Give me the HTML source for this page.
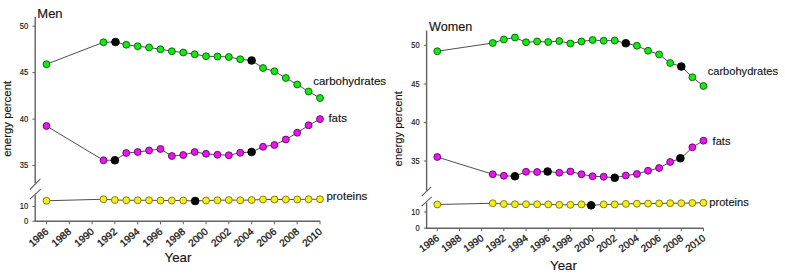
<!DOCTYPE html>
<html><head><meta charset="utf-8"><style>
html,body{margin:0;padding:0;background:#fff;}
body{width:785px;height:276px;overflow:hidden;}
svg{display:block;}
text{font-family:"Liberation Sans", sans-serif;fill:#141414;stroke:#141414;stroke-width:0.15px;}
</style></head><body>
<svg width="785" height="276" viewBox="0 0 785 276">
<rect width="785" height="276" fill="#fff"/>
<path d="M35.2 17V183.3M35.2 195.2V221.3H320.2" fill="none" stroke="#626262" stroke-width="1.4"/>
<line x1="30" y1="189.5" x2="40.3" y2="178.9" stroke="#626262" stroke-width="1.1"/>
<line x1="30" y1="199.2" x2="40.8" y2="189.1" stroke="#626262" stroke-width="1.1"/>
<line x1="32.4" y1="26.1" x2="35.2" y2="26.1" stroke="#626262" stroke-width="1"/>
<text transform="translate(28.2 28.6) scale(0.88 1)" text-anchor="end" font-size="8.7">50</text>
<line x1="32.4" y1="72.6" x2="35.2" y2="72.6" stroke="#626262" stroke-width="1"/>
<text transform="translate(28.2 75.1) scale(0.88 1)" text-anchor="end" font-size="8.7">45</text>
<line x1="32.4" y1="119.1" x2="35.2" y2="119.1" stroke="#626262" stroke-width="1"/>
<text transform="translate(28.2 121.6) scale(0.88 1)" text-anchor="end" font-size="8.7">40</text>
<line x1="32.4" y1="165.6" x2="35.2" y2="165.6" stroke="#626262" stroke-width="1"/>
<text transform="translate(28.2 168.1) scale(0.88 1)" text-anchor="end" font-size="8.7">35</text>
<line x1="32.4" y1="206.5" x2="35.2" y2="206.5" stroke="#626262" stroke-width="1"/>
<text transform="translate(28.2 209) scale(0.88 1)" text-anchor="end" font-size="8.7">10</text>
<line x1="32.4" y1="221.3" x2="35.2" y2="221.3" stroke="#626262" stroke-width="1"/>
<text transform="translate(28.2 223.8) scale(0.88 1)" text-anchor="end" font-size="8.7">0</text>
<line x1="46.5" y1="221.3" x2="46.5" y2="224.3" stroke="#626262" stroke-width="1"/>
<text transform="translate(49.2 232.6) rotate(-41)" text-anchor="end" font-size="10.0" style="stroke-width:0.3px">1986</text>
<line x1="69.29" y1="221.3" x2="69.29" y2="224.3" stroke="#626262" stroke-width="1"/>
<text transform="translate(71.99 232.6) rotate(-41)" text-anchor="end" font-size="10.0" style="stroke-width:0.3px">1988</text>
<line x1="92.08" y1="221.3" x2="92.08" y2="224.3" stroke="#626262" stroke-width="1"/>
<text transform="translate(94.78 232.6) rotate(-41)" text-anchor="end" font-size="10.0" style="stroke-width:0.3px">1990</text>
<line x1="114.88" y1="221.3" x2="114.88" y2="224.3" stroke="#626262" stroke-width="1"/>
<text transform="translate(117.58 232.6) rotate(-41)" text-anchor="end" font-size="10.0" style="stroke-width:0.3px">1992</text>
<line x1="137.67" y1="221.3" x2="137.67" y2="224.3" stroke="#626262" stroke-width="1"/>
<text transform="translate(140.37 232.6) rotate(-41)" text-anchor="end" font-size="10.0" style="stroke-width:0.3px">1994</text>
<line x1="160.46" y1="221.3" x2="160.46" y2="224.3" stroke="#626262" stroke-width="1"/>
<text transform="translate(163.16 232.6) rotate(-41)" text-anchor="end" font-size="10.0" style="stroke-width:0.3px">1996</text>
<line x1="183.25" y1="221.3" x2="183.25" y2="224.3" stroke="#626262" stroke-width="1"/>
<text transform="translate(185.95 232.6) rotate(-41)" text-anchor="end" font-size="10.0" style="stroke-width:0.3px">1998</text>
<line x1="206.04" y1="221.3" x2="206.04" y2="224.3" stroke="#626262" stroke-width="1"/>
<text transform="translate(208.74 232.6) rotate(-41)" text-anchor="end" font-size="10.0" style="stroke-width:0.3px">2000</text>
<line x1="228.84" y1="221.3" x2="228.84" y2="224.3" stroke="#626262" stroke-width="1"/>
<text transform="translate(231.54 232.6) rotate(-41)" text-anchor="end" font-size="10.0" style="stroke-width:0.3px">2002</text>
<line x1="251.63" y1="221.3" x2="251.63" y2="224.3" stroke="#626262" stroke-width="1"/>
<text transform="translate(254.33 232.6) rotate(-41)" text-anchor="end" font-size="10.0" style="stroke-width:0.3px">2004</text>
<line x1="274.42" y1="221.3" x2="274.42" y2="224.3" stroke="#626262" stroke-width="1"/>
<text transform="translate(277.12 232.6) rotate(-41)" text-anchor="end" font-size="10.0" style="stroke-width:0.3px">2006</text>
<line x1="297.21" y1="221.3" x2="297.21" y2="224.3" stroke="#626262" stroke-width="1"/>
<text transform="translate(299.91 232.6) rotate(-41)" text-anchor="end" font-size="10.0" style="stroke-width:0.3px">2008</text>
<line x1="320" y1="221.3" x2="320" y2="224.3" stroke="#626262" stroke-width="1"/>
<text transform="translate(322.7 232.6) rotate(-41)" text-anchor="end" font-size="10.0" style="stroke-width:0.3px">2010</text>
<text x="37.3" y="17.9" font-size="13.0">Men</text>
<text transform="translate(10.5 118.85) rotate(-90)" text-anchor="middle" font-size="11.4">energy percent</text>
<text x="177.95" y="262.4" text-anchor="middle" font-size="13.3">Year</text>
<text x="313.2" y="85" font-size="11.5">carbohydrates</text>
<text x="328.4" y="121.6" font-size="11.5">fats</text>
<text x="326.4" y="200" font-size="11.5">proteins</text>
<polyline points="46.5,64.25 103.48,42.25 114.88,42 126.27,44.75 137.67,46.25 149.06,47.5 160.46,49.25 171.86,51.25 183.25,52.5 194.65,54.25 206.04,56.25 217.44,56.5 228.84,57 240.23,59.25 251.63,60.5 263.02,68 274.42,71.25 285.82,78 297.21,84.5 308.61,91.5 320,98" fill="none" stroke="#4e4e4e" stroke-width="1"/>
<circle cx="46.5" cy="64.25" r="3.45" fill="#12ea12" stroke="#0b5a0b" stroke-width="0.9"/>
<circle cx="103.48" cy="42.25" r="3.45" fill="#12ea12" stroke="#0b5a0b" stroke-width="0.9"/>
<circle cx="115.48" cy="42" r="3.85" fill="#060606" stroke="#000000" stroke-width="0.9"/>
<circle cx="126.27" cy="44.75" r="3.45" fill="#12ea12" stroke="#0b5a0b" stroke-width="0.9"/>
<circle cx="137.67" cy="46.25" r="3.45" fill="#12ea12" stroke="#0b5a0b" stroke-width="0.9"/>
<circle cx="149.06" cy="47.5" r="3.45" fill="#12ea12" stroke="#0b5a0b" stroke-width="0.9"/>
<circle cx="160.46" cy="49.25" r="3.45" fill="#12ea12" stroke="#0b5a0b" stroke-width="0.9"/>
<circle cx="171.86" cy="51.25" r="3.45" fill="#12ea12" stroke="#0b5a0b" stroke-width="0.9"/>
<circle cx="183.25" cy="52.5" r="3.45" fill="#12ea12" stroke="#0b5a0b" stroke-width="0.9"/>
<circle cx="194.65" cy="54.25" r="3.45" fill="#12ea12" stroke="#0b5a0b" stroke-width="0.9"/>
<circle cx="206.04" cy="56.25" r="3.45" fill="#12ea12" stroke="#0b5a0b" stroke-width="0.9"/>
<circle cx="217.44" cy="56.5" r="3.45" fill="#12ea12" stroke="#0b5a0b" stroke-width="0.9"/>
<circle cx="228.84" cy="57" r="3.45" fill="#12ea12" stroke="#0b5a0b" stroke-width="0.9"/>
<circle cx="240.23" cy="59.25" r="3.45" fill="#12ea12" stroke="#0b5a0b" stroke-width="0.9"/>
<circle cx="251.63" cy="60.5" r="3.85" fill="#060606" stroke="#000000" stroke-width="0.9"/>
<circle cx="263.02" cy="68" r="3.45" fill="#12ea12" stroke="#0b5a0b" stroke-width="0.9"/>
<circle cx="274.42" cy="71.25" r="3.45" fill="#12ea12" stroke="#0b5a0b" stroke-width="0.9"/>
<circle cx="285.82" cy="78" r="3.45" fill="#12ea12" stroke="#0b5a0b" stroke-width="0.9"/>
<circle cx="297.21" cy="84.5" r="3.45" fill="#12ea12" stroke="#0b5a0b" stroke-width="0.9"/>
<circle cx="308.61" cy="91.5" r="3.45" fill="#12ea12" stroke="#0b5a0b" stroke-width="0.9"/>
<circle cx="320" cy="98" r="3.45" fill="#12ea12" stroke="#0b5a0b" stroke-width="0.9"/>
<polyline points="46.5,126 103.48,160.25 114.88,160.25 126.27,153 137.67,152 149.06,150.5 160.46,149 171.86,156 183.25,155 194.65,152 206.04,153.75 217.44,154.75 228.84,155.25 240.23,152.75 251.63,152 263.02,146.75 274.42,145 285.82,139.5 297.21,132.75 308.61,125.3 320,119.1" fill="none" stroke="#4e4e4e" stroke-width="1"/>
<circle cx="46.5" cy="126" r="3.45" fill="#ea14ee" stroke="#5e0860" stroke-width="0.9"/>
<circle cx="103.48" cy="160.25" r="3.45" fill="#ea14ee" stroke="#5e0860" stroke-width="0.9"/>
<circle cx="114.88" cy="160.25" r="3.85" fill="#060606" stroke="#000000" stroke-width="0.9"/>
<circle cx="126.27" cy="153" r="3.45" fill="#ea14ee" stroke="#5e0860" stroke-width="0.9"/>
<circle cx="137.67" cy="152" r="3.45" fill="#ea14ee" stroke="#5e0860" stroke-width="0.9"/>
<circle cx="149.06" cy="150.5" r="3.45" fill="#ea14ee" stroke="#5e0860" stroke-width="0.9"/>
<circle cx="160.46" cy="149" r="3.45" fill="#ea14ee" stroke="#5e0860" stroke-width="0.9"/>
<circle cx="171.86" cy="156" r="3.45" fill="#ea14ee" stroke="#5e0860" stroke-width="0.9"/>
<circle cx="183.25" cy="155" r="3.45" fill="#ea14ee" stroke="#5e0860" stroke-width="0.9"/>
<circle cx="194.65" cy="152" r="3.45" fill="#ea14ee" stroke="#5e0860" stroke-width="0.9"/>
<circle cx="206.04" cy="153.75" r="3.45" fill="#ea14ee" stroke="#5e0860" stroke-width="0.9"/>
<circle cx="217.44" cy="154.75" r="3.45" fill="#ea14ee" stroke="#5e0860" stroke-width="0.9"/>
<circle cx="228.84" cy="155.25" r="3.45" fill="#ea14ee" stroke="#5e0860" stroke-width="0.9"/>
<circle cx="240.23" cy="152.75" r="3.45" fill="#ea14ee" stroke="#5e0860" stroke-width="0.9"/>
<circle cx="251.63" cy="152" r="3.85" fill="#060606" stroke="#000000" stroke-width="0.9"/>
<circle cx="263.02" cy="146.75" r="3.45" fill="#ea14ee" stroke="#5e0860" stroke-width="0.9"/>
<circle cx="274.42" cy="145" r="3.45" fill="#ea14ee" stroke="#5e0860" stroke-width="0.9"/>
<circle cx="285.82" cy="139.5" r="3.45" fill="#ea14ee" stroke="#5e0860" stroke-width="0.9"/>
<circle cx="297.21" cy="132.75" r="3.45" fill="#ea14ee" stroke="#5e0860" stroke-width="0.9"/>
<circle cx="308.61" cy="125.3" r="3.45" fill="#ea14ee" stroke="#5e0860" stroke-width="0.9"/>
<circle cx="320" cy="119.1" r="3.45" fill="#ea14ee" stroke="#5e0860" stroke-width="0.9"/>
<polyline points="46.5,200.75 103.48,199.25 114.88,200 126.27,200.25 137.67,200.25 149.06,200.25 160.46,200.5 171.86,200.5 183.25,200.5 194.65,201 206.04,200.5 217.44,200.25 228.84,200 240.23,200.25 251.63,200 263.02,199.5 274.42,199.5 285.82,199.5 297.21,199.5 308.61,199.25 320,199.25" fill="none" stroke="#4e4e4e" stroke-width="1"/>
<circle cx="46.5" cy="200.75" r="3.45" fill="#f2ee1c" stroke="#7a7008" stroke-width="0.9"/>
<circle cx="103.48" cy="199.25" r="3.45" fill="#f2ee1c" stroke="#7a7008" stroke-width="0.9"/>
<circle cx="114.88" cy="200" r="3.45" fill="#f2ee1c" stroke="#7a7008" stroke-width="0.9"/>
<circle cx="126.27" cy="200.25" r="3.45" fill="#f2ee1c" stroke="#7a7008" stroke-width="0.9"/>
<circle cx="137.67" cy="200.25" r="3.45" fill="#f2ee1c" stroke="#7a7008" stroke-width="0.9"/>
<circle cx="149.06" cy="200.25" r="3.45" fill="#f2ee1c" stroke="#7a7008" stroke-width="0.9"/>
<circle cx="160.46" cy="200.5" r="3.45" fill="#f2ee1c" stroke="#7a7008" stroke-width="0.9"/>
<circle cx="171.86" cy="200.5" r="3.45" fill="#f2ee1c" stroke="#7a7008" stroke-width="0.9"/>
<circle cx="183.25" cy="200.5" r="3.45" fill="#f2ee1c" stroke="#7a7008" stroke-width="0.9"/>
<circle cx="195.15" cy="201" r="3.85" fill="#060606" stroke="#000000" stroke-width="0.9"/>
<circle cx="206.04" cy="200.5" r="3.45" fill="#f2ee1c" stroke="#7a7008" stroke-width="0.9"/>
<circle cx="217.44" cy="200.25" r="3.45" fill="#f2ee1c" stroke="#7a7008" stroke-width="0.9"/>
<circle cx="228.84" cy="200" r="3.45" fill="#f2ee1c" stroke="#7a7008" stroke-width="0.9"/>
<circle cx="240.23" cy="200.25" r="3.45" fill="#f2ee1c" stroke="#7a7008" stroke-width="0.9"/>
<circle cx="251.63" cy="200" r="3.45" fill="#f2ee1c" stroke="#7a7008" stroke-width="0.9"/>
<circle cx="263.02" cy="199.5" r="3.45" fill="#f2ee1c" stroke="#7a7008" stroke-width="0.9"/>
<circle cx="274.42" cy="199.5" r="3.45" fill="#f2ee1c" stroke="#7a7008" stroke-width="0.9"/>
<circle cx="285.82" cy="199.5" r="3.45" fill="#f2ee1c" stroke="#7a7008" stroke-width="0.9"/>
<circle cx="297.21" cy="199.5" r="3.45" fill="#f2ee1c" stroke="#7a7008" stroke-width="0.9"/>
<circle cx="308.61" cy="199.25" r="3.45" fill="#f2ee1c" stroke="#7a7008" stroke-width="0.9"/>
<circle cx="320" cy="199.25" r="3.45" fill="#f2ee1c" stroke="#7a7008" stroke-width="0.9"/>
<path d="M426.6 30.5V191.2M426.6 202.6V228.2H703.5" fill="none" stroke="#626262" stroke-width="1.4"/>
<line x1="421.7" y1="196.1" x2="431.2" y2="186.8" stroke="#626262" stroke-width="1.1"/>
<line x1="421.7" y1="206.2" x2="431.7" y2="196.9" stroke="#626262" stroke-width="1.1"/>
<line x1="423.8" y1="45.3" x2="426.6" y2="45.3" stroke="#626262" stroke-width="1"/>
<text transform="translate(419.6 47.8) scale(0.88 1)" text-anchor="end" font-size="8.5">50</text>
<line x1="423.8" y1="84" x2="426.6" y2="84" stroke="#626262" stroke-width="1"/>
<text transform="translate(419.6 86.5) scale(0.88 1)" text-anchor="end" font-size="8.5">45</text>
<line x1="423.8" y1="122.5" x2="426.6" y2="122.5" stroke="#626262" stroke-width="1"/>
<text transform="translate(419.6 125) scale(0.88 1)" text-anchor="end" font-size="8.5">40</text>
<line x1="423.8" y1="161" x2="426.6" y2="161" stroke="#626262" stroke-width="1"/>
<text transform="translate(419.6 163.5) scale(0.88 1)" text-anchor="end" font-size="8.5">35</text>
<line x1="423.8" y1="212" x2="426.6" y2="212" stroke="#626262" stroke-width="1"/>
<text transform="translate(419.6 214.5) scale(0.88 1)" text-anchor="end" font-size="8.5">10</text>
<line x1="423.8" y1="228.2" x2="426.6" y2="228.2" stroke="#626262" stroke-width="1"/>
<text transform="translate(419.6 230.7) scale(0.88 1)" text-anchor="end" font-size="8.5">0</text>
<line x1="437.3" y1="228.2" x2="437.3" y2="231.2" stroke="#626262" stroke-width="1"/>
<text transform="translate(440 239.5) rotate(-36)" text-anchor="end" font-size="9.9" style="stroke-width:0.3px">1986</text>
<line x1="459.48" y1="228.2" x2="459.48" y2="231.2" stroke="#626262" stroke-width="1"/>
<text transform="translate(462.18 239.5) rotate(-36)" text-anchor="end" font-size="9.9" style="stroke-width:0.3px">1988</text>
<line x1="481.66" y1="228.2" x2="481.66" y2="231.2" stroke="#626262" stroke-width="1"/>
<text transform="translate(484.36 239.5) rotate(-36)" text-anchor="end" font-size="9.9" style="stroke-width:0.3px">1990</text>
<line x1="503.84" y1="228.2" x2="503.84" y2="231.2" stroke="#626262" stroke-width="1"/>
<text transform="translate(506.54 239.5) rotate(-36)" text-anchor="end" font-size="9.9" style="stroke-width:0.3px">1992</text>
<line x1="526.02" y1="228.2" x2="526.02" y2="231.2" stroke="#626262" stroke-width="1"/>
<text transform="translate(528.72 239.5) rotate(-36)" text-anchor="end" font-size="9.9" style="stroke-width:0.3px">1994</text>
<line x1="548.2" y1="228.2" x2="548.2" y2="231.2" stroke="#626262" stroke-width="1"/>
<text transform="translate(550.9 239.5) rotate(-36)" text-anchor="end" font-size="9.9" style="stroke-width:0.3px">1996</text>
<line x1="570.38" y1="228.2" x2="570.38" y2="231.2" stroke="#626262" stroke-width="1"/>
<text transform="translate(573.08 239.5) rotate(-36)" text-anchor="end" font-size="9.9" style="stroke-width:0.3px">1998</text>
<line x1="592.56" y1="228.2" x2="592.56" y2="231.2" stroke="#626262" stroke-width="1"/>
<text transform="translate(595.26 239.5) rotate(-36)" text-anchor="end" font-size="9.9" style="stroke-width:0.3px">2000</text>
<line x1="614.74" y1="228.2" x2="614.74" y2="231.2" stroke="#626262" stroke-width="1"/>
<text transform="translate(617.44 239.5) rotate(-36)" text-anchor="end" font-size="9.9" style="stroke-width:0.3px">2002</text>
<line x1="636.92" y1="228.2" x2="636.92" y2="231.2" stroke="#626262" stroke-width="1"/>
<text transform="translate(639.62 239.5) rotate(-36)" text-anchor="end" font-size="9.9" style="stroke-width:0.3px">2004</text>
<line x1="659.1" y1="228.2" x2="659.1" y2="231.2" stroke="#626262" stroke-width="1"/>
<text transform="translate(661.8 239.5) rotate(-36)" text-anchor="end" font-size="9.9" style="stroke-width:0.3px">2006</text>
<line x1="681.28" y1="228.2" x2="681.28" y2="231.2" stroke="#626262" stroke-width="1"/>
<text transform="translate(683.98 239.5) rotate(-36)" text-anchor="end" font-size="9.9" style="stroke-width:0.3px">2008</text>
<line x1="703.46" y1="228.2" x2="703.46" y2="231.2" stroke="#626262" stroke-width="1"/>
<text transform="translate(706.16 239.5) rotate(-36)" text-anchor="end" font-size="9.9" style="stroke-width:0.3px">2010</text>
<text x="429" y="31" font-size="12.6">Women</text>
<text transform="translate(402.3 128.7) rotate(-90)" text-anchor="middle" font-size="11.3">energy percent</text>
<text x="563.5" y="270" text-anchor="middle" font-size="13.3">Year</text>
<text x="707.7" y="75" font-size="11.1">carbohydrates</text>
<text x="712.6" y="144.9" font-size="11.1">fats</text>
<text x="709.3" y="206" font-size="11.1">proteins</text>
<polyline points="437.3,51.25 492.75,43 503.84,39.5 514.93,37.5 526.02,42.25 537.11,41.5 548.2,42 559.29,41 570.38,43.5 581.47,41.5 592.56,40 603.65,40.75 614.74,40.5 625.83,43.25 636.92,45.75 648.01,50.75 659.1,54.5 670.19,63 681.28,66.5 692.37,77.25 703.46,86" fill="none" stroke="#4e4e4e" stroke-width="1"/>
<circle cx="437.3" cy="51.25" r="3.45" fill="#12ea12" stroke="#0b5a0b" stroke-width="0.9"/>
<circle cx="492.75" cy="43" r="3.45" fill="#12ea12" stroke="#0b5a0b" stroke-width="0.9"/>
<circle cx="503.84" cy="39.5" r="3.45" fill="#12ea12" stroke="#0b5a0b" stroke-width="0.9"/>
<circle cx="514.93" cy="37.5" r="3.45" fill="#12ea12" stroke="#0b5a0b" stroke-width="0.9"/>
<circle cx="526.02" cy="42.25" r="3.45" fill="#12ea12" stroke="#0b5a0b" stroke-width="0.9"/>
<circle cx="537.11" cy="41.5" r="3.45" fill="#12ea12" stroke="#0b5a0b" stroke-width="0.9"/>
<circle cx="548.2" cy="42" r="3.45" fill="#12ea12" stroke="#0b5a0b" stroke-width="0.9"/>
<circle cx="559.29" cy="41" r="3.45" fill="#12ea12" stroke="#0b5a0b" stroke-width="0.9"/>
<circle cx="570.38" cy="43.5" r="3.45" fill="#12ea12" stroke="#0b5a0b" stroke-width="0.9"/>
<circle cx="581.47" cy="41.5" r="3.45" fill="#12ea12" stroke="#0b5a0b" stroke-width="0.9"/>
<circle cx="592.56" cy="40" r="3.45" fill="#12ea12" stroke="#0b5a0b" stroke-width="0.9"/>
<circle cx="603.65" cy="40.75" r="3.45" fill="#12ea12" stroke="#0b5a0b" stroke-width="0.9"/>
<circle cx="614.74" cy="40.5" r="3.45" fill="#12ea12" stroke="#0b5a0b" stroke-width="0.9"/>
<circle cx="625.83" cy="43.25" r="3.85" fill="#060606" stroke="#000000" stroke-width="0.9"/>
<circle cx="636.92" cy="45.75" r="3.45" fill="#12ea12" stroke="#0b5a0b" stroke-width="0.9"/>
<circle cx="648.01" cy="50.75" r="3.45" fill="#12ea12" stroke="#0b5a0b" stroke-width="0.9"/>
<circle cx="659.1" cy="54.5" r="3.45" fill="#12ea12" stroke="#0b5a0b" stroke-width="0.9"/>
<circle cx="670.19" cy="63" r="3.45" fill="#12ea12" stroke="#0b5a0b" stroke-width="0.9"/>
<circle cx="681.28" cy="66.5" r="3.85" fill="#060606" stroke="#000000" stroke-width="0.9"/>
<circle cx="692.37" cy="77.25" r="3.45" fill="#12ea12" stroke="#0b5a0b" stroke-width="0.9"/>
<circle cx="703.46" cy="86" r="3.45" fill="#12ea12" stroke="#0b5a0b" stroke-width="0.9"/>
<polyline points="437.3,157 492.75,174.25 503.84,175.75 514.93,176.25 526.02,171.75 537.11,172 548.2,171.5 559.29,172.75 570.38,171.5 581.47,174.25 592.56,176.25 603.65,176.75 614.74,177.75 625.83,175.5 636.92,174 648.01,170.75 659.1,168 670.19,162 681.28,158.25 692.37,147.3 703.46,140.7" fill="none" stroke="#4e4e4e" stroke-width="1"/>
<circle cx="437.3" cy="157" r="3.45" fill="#ea14ee" stroke="#5e0860" stroke-width="0.9"/>
<circle cx="492.75" cy="174.25" r="3.45" fill="#ea14ee" stroke="#5e0860" stroke-width="0.9"/>
<circle cx="503.84" cy="175.75" r="3.45" fill="#ea14ee" stroke="#5e0860" stroke-width="0.9"/>
<circle cx="514.93" cy="176.25" r="3.85" fill="#060606" stroke="#000000" stroke-width="0.9"/>
<circle cx="526.02" cy="171.75" r="3.45" fill="#ea14ee" stroke="#5e0860" stroke-width="0.9"/>
<circle cx="537.11" cy="172" r="3.45" fill="#ea14ee" stroke="#5e0860" stroke-width="0.9"/>
<circle cx="547.6" cy="171.5" r="3.85" fill="#060606" stroke="#000000" stroke-width="0.9"/>
<circle cx="559.29" cy="172.75" r="3.45" fill="#ea14ee" stroke="#5e0860" stroke-width="0.9"/>
<circle cx="570.38" cy="171.5" r="3.45" fill="#ea14ee" stroke="#5e0860" stroke-width="0.9"/>
<circle cx="581.47" cy="174.25" r="3.45" fill="#ea14ee" stroke="#5e0860" stroke-width="0.9"/>
<circle cx="592.56" cy="176.25" r="3.45" fill="#ea14ee" stroke="#5e0860" stroke-width="0.9"/>
<circle cx="603.65" cy="176.75" r="3.45" fill="#ea14ee" stroke="#5e0860" stroke-width="0.9"/>
<circle cx="614.74" cy="177.75" r="3.85" fill="#060606" stroke="#000000" stroke-width="0.9"/>
<circle cx="625.83" cy="175.5" r="3.45" fill="#ea14ee" stroke="#5e0860" stroke-width="0.9"/>
<circle cx="636.92" cy="174" r="3.45" fill="#ea14ee" stroke="#5e0860" stroke-width="0.9"/>
<circle cx="648.01" cy="170.75" r="3.45" fill="#ea14ee" stroke="#5e0860" stroke-width="0.9"/>
<circle cx="659.1" cy="168" r="3.45" fill="#ea14ee" stroke="#5e0860" stroke-width="0.9"/>
<circle cx="670.19" cy="162" r="3.45" fill="#ea14ee" stroke="#5e0860" stroke-width="0.9"/>
<circle cx="680.38" cy="158.25" r="3.85" fill="#060606" stroke="#000000" stroke-width="0.9"/>
<circle cx="692.37" cy="147.3" r="3.45" fill="#ea14ee" stroke="#5e0860" stroke-width="0.9"/>
<circle cx="703.46" cy="140.7" r="3.45" fill="#ea14ee" stroke="#5e0860" stroke-width="0.9"/>
<polyline points="437.3,204.5 492.75,203.25 503.84,204 514.93,204.25 526.02,204.2 537.11,204.25 548.2,204.4 559.29,204.8 570.38,204.8 581.47,204.4 592.56,205.3 603.65,204.4 614.74,204.4 625.83,203.9 636.92,203.7 648.01,203.6 659.1,203.4 670.19,203.2 681.28,203.2 692.37,203 703.46,202.8" fill="none" stroke="#4e4e4e" stroke-width="1"/>
<circle cx="437.3" cy="204.5" r="3.45" fill="#f2ee1c" stroke="#7a7008" stroke-width="0.9"/>
<circle cx="492.75" cy="203.25" r="3.45" fill="#f2ee1c" stroke="#7a7008" stroke-width="0.9"/>
<circle cx="503.84" cy="204" r="3.45" fill="#f2ee1c" stroke="#7a7008" stroke-width="0.9"/>
<circle cx="514.93" cy="204.25" r="3.45" fill="#f2ee1c" stroke="#7a7008" stroke-width="0.9"/>
<circle cx="526.02" cy="204.2" r="3.45" fill="#f2ee1c" stroke="#7a7008" stroke-width="0.9"/>
<circle cx="537.11" cy="204.25" r="3.45" fill="#f2ee1c" stroke="#7a7008" stroke-width="0.9"/>
<circle cx="548.2" cy="204.4" r="3.45" fill="#f2ee1c" stroke="#7a7008" stroke-width="0.9"/>
<circle cx="559.29" cy="204.8" r="3.45" fill="#f2ee1c" stroke="#7a7008" stroke-width="0.9"/>
<circle cx="570.38" cy="204.8" r="3.45" fill="#f2ee1c" stroke="#7a7008" stroke-width="0.9"/>
<circle cx="581.47" cy="204.4" r="3.45" fill="#f2ee1c" stroke="#7a7008" stroke-width="0.9"/>
<circle cx="591.16" cy="205.3" r="3.85" fill="#060606" stroke="#000000" stroke-width="0.9"/>
<circle cx="603.65" cy="204.4" r="3.45" fill="#f2ee1c" stroke="#7a7008" stroke-width="0.9"/>
<circle cx="614.74" cy="204.4" r="3.45" fill="#f2ee1c" stroke="#7a7008" stroke-width="0.9"/>
<circle cx="625.83" cy="203.9" r="3.45" fill="#f2ee1c" stroke="#7a7008" stroke-width="0.9"/>
<circle cx="636.92" cy="203.7" r="3.45" fill="#f2ee1c" stroke="#7a7008" stroke-width="0.9"/>
<circle cx="648.01" cy="203.6" r="3.45" fill="#f2ee1c" stroke="#7a7008" stroke-width="0.9"/>
<circle cx="659.1" cy="203.4" r="3.45" fill="#f2ee1c" stroke="#7a7008" stroke-width="0.9"/>
<circle cx="670.19" cy="203.2" r="3.45" fill="#f2ee1c" stroke="#7a7008" stroke-width="0.9"/>
<circle cx="681.28" cy="203.2" r="3.45" fill="#f2ee1c" stroke="#7a7008" stroke-width="0.9"/>
<circle cx="692.37" cy="203" r="3.45" fill="#f2ee1c" stroke="#7a7008" stroke-width="0.9"/>
<circle cx="703.46" cy="202.8" r="3.45" fill="#f2ee1c" stroke="#7a7008" stroke-width="0.9"/>
</svg>
</body></html>
